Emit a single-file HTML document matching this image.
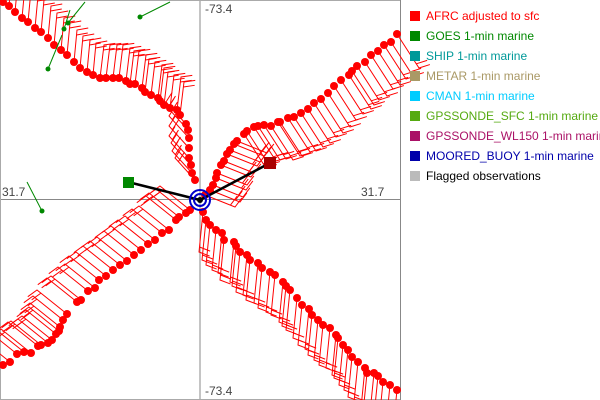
<!DOCTYPE html>
<html><head><meta charset="utf-8"><style>
html,body{margin:0;background:#fff;width:600px;height:400px;overflow:hidden;font-family:"Liberation Sans","DejaVu Sans",sans-serif}
.lg{position:absolute;left:410px;font-size:12px;line-height:14px;white-space:nowrap}
.lg span{display:inline-block;width:10px;height:10px;margin-right:6px;vertical-align:-1px}
</style></head><body>
<svg id="s" width="600" height="400" style="position:absolute;left:0;top:0;display:block">
<line x1="200" y1="0" x2="200" y2="400" stroke="#888"/>
<line x1="0" y1="199.5" x2="400" y2="199.5" stroke="#888"/>
<line x1="400.5" y1="0" x2="400.5" y2="400" stroke="#888"/>
<line x1="0" y1="0.5" x2="400" y2="0.5" stroke="#aaa"/>
<line x1="0.5" y1="0" x2="0.5" y2="400" stroke="#aaa"/>
<line x1="0" y1="399.5" x2="400" y2="399.5" stroke="#aaa"/>
<g id="g"></g>
<g font-size="12" fill="#444">
<text x="205" y="13">-73.4</text><text x="2" y="196">31.7</text>
<text x="361" y="196">31.7</text><text x="205" y="395">-73.4</text>
</g>
</svg>
<div class="lg" style="top:9px;color:#f00"><span style="background:#f00"></span>AFRC adjusted to sfc</div>
<div class="lg" style="top:29px;color:#080"><span style="background:#080"></span>GOES 1-min marine</div>
<div class="lg" style="top:49px;color:#099"><span style="background:#099"></span>SHIP 1-min marine</div>
<div class="lg" style="top:69px;color:#a96"><span style="background:#a96"></span>METAR 1-min marine</div>
<div class="lg" style="top:89px;color:#0cf"><span style="background:#0cf"></span>CMAN 1-min marine</div>
<div class="lg" style="top:109px;color:#5a1"><span style="background:#5a1"></span>GPSSONDE_SFC 1-min marine</div>
<div class="lg" style="top:129px;color:#a16"><span style="background:#a16"></span>GPSSONDE_WL150 1-min marine</div>
<div class="lg" style="top:149px;color:#00a"><span style="background:#00a"></span>MOORED_BUOY 1-min marine</div>
<div class="lg" style="top:169px;color:#000"><span style="background:#bbb"></span>Flagged observations</div>
<script>
var g=document.getElementById('g'),h='',dots='';
function arm(out,dx,dy,side){
 out.forEach(function(p){
  var ex=p[0]+dx,ey=p[1]+dy,L=Math.hypot(dx,dy),ux=dx/L,uy=dy/L,px=-uy*side,py=ux*side;
  h+='<path d="M'+p[0]+' '+p[1]+'L'+ex+' '+ey+'l'+(px*11+ux*3)+' '+(py*11+uy*3)+'M'+(ex-ux*5)+' '+(ey-uy*5)+'l'+(px*11+ux*3)+' '+(py*11+uy*3)+'" stroke="#f00" fill="none" stroke-width="1"/>';
  dots+='<circle cx="'+p[0]+'" cy="'+p[1]+'" r="4" fill="#f00"/>';
 });
}
arm([[3,2],[9,6],[15,12],[22,18],[28,22],[35,28],[41,32],[48,38],[54,45],[61,50],[67,55],[74,62],[80,68],[87,72],[93,75]],3,-32,1);
arm([[100,78],[106,78],[113,78],[119,78],[126,81],[130,84],[135,84],[142,88],[145,92],[151,95],[158,98],[160,101],[164,105],[170,108],[177,110],[180,115]],4,-33,1);
arm([[186,124],[188,130],[189,138],[189,148],[189,158],[191,165],[192,173],[195,180]],-20,-22,1);
arm([[397,34],[391,42],[384,45],[378,51],[371,55],[365,62],[357,66],[352,71],[349,75],[341,80],[334,86],[328,93],[321,99],[314,103],[308,109],[301,113],[294,117],[288,118],[280,122],[278,122],[271,126],[264,125],[258,126],[254,127],[247,131],[244,134]],22,34,-1);
arm([[237,141],[234,144],[230,150],[227,154],[224,161],[221,165],[217,173],[216,178],[213,185],[210,190],[205,195]],30,12,-1);
arm([[203,212],[206,220],[210,225],[216,230],[222,233],[224,240],[234,242],[236,246],[240,252],[247,255],[250,260],[258,263],[262,268],[270,272],[275,275],[283,282],[286,286],[290,290],[297,298],[302,305],[309,309],[312,315],[318,320],[323,325],[330,328],[336,335],[338,338],[343,345],[348,350],[352,357],[358,362],[365,368],[367,373],[374,373],[378,376],[383,382],[390,385],[397,390]],-4,40,-1);
arm([[3,365],[10,362],[17,354],[24,352],[31,353],[38,346],[41,345],[48,343],[52,340],[56,334],[59,331],[60,327],[63,320],[67,314],[77,302],[81,300],[88,291],[95,288],[99,280],[106,276],[113,270],[120,265],[127,261],[134,255],[141,250],[148,244],[155,240],[162,233],[169,230],[176,220],[179,217],[186,213],[190,210]],-30,-24,-1);
h+=dots;
[[68,23,85,2],[64,29,70,10],[48,69,62,35],[140,17,170,2],[42,211,27,182]].forEach(function(s){
 h+='<line x1="'+s[0]+'" y1="'+s[1]+'" x2="'+s[2]+'" y2="'+s[3]+'" stroke="#080"/><circle cx="'+s[0]+'" cy="'+s[1]+'" r="2.5" fill="#080"/>';});
h+='<path d="M128 182L200 200M270 163L200 200" stroke="#000" stroke-width="2.5"/>';
h+='<rect x="123" y="177" width="11" height="11" fill="#080"/><rect x="264" y="157" width="12" height="12" fill="#a00"/>';
h+='<circle cx="200" cy="200" r="10" fill="none" stroke="#00c" stroke-width="2"/><circle cx="200" cy="200" r="6" fill="none" stroke="#00c" stroke-width="2"/><circle cx="200" cy="200" r="3" fill="#000"/>';
g.innerHTML=h;
</script>
</body></html>
